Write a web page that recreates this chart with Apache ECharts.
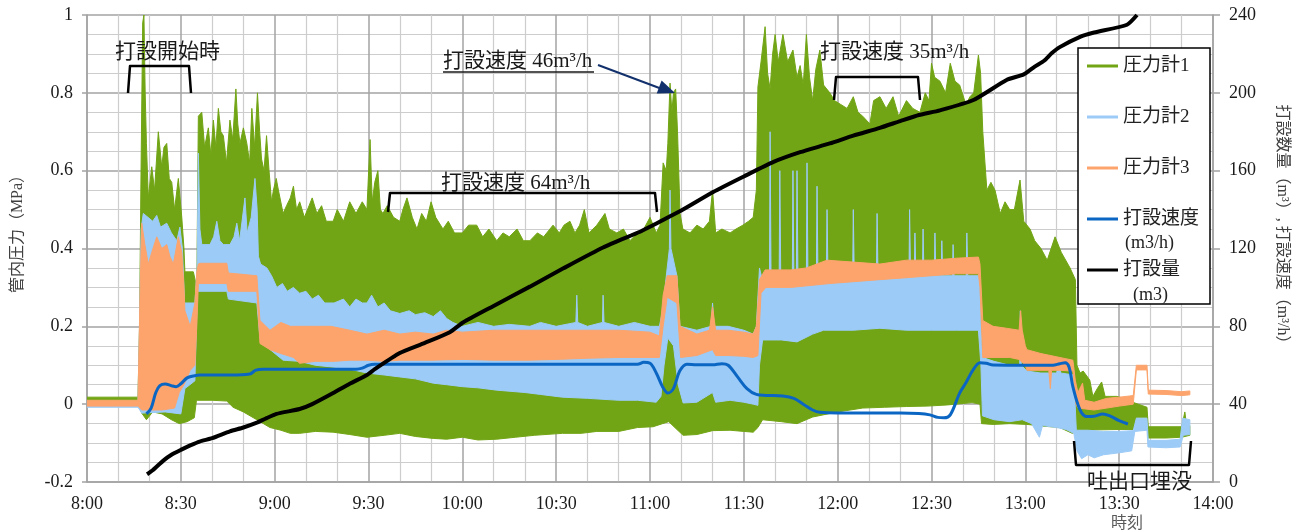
<!DOCTYPE html>
<html><head><meta charset="utf-8">
<script src="https://cdn.jsdelivr.net/npm/echarts/dist/echarts.min.js"></script>
<style>html,body{margin:0;padding:0;background:#fff}#c{width:1305px;height:532px}</style>
</head><body><div id="c"></div>
<script>
// ---- tick labels ----
const timeLabels = ['8:00','8:30','9:00','9:30','10:00','10:30','11:00','11:30','12:00','12:30','13:00','13:30','14:00'];
const pressureLabels = ['-0.2','0','0.2','0.4','0.6','0.8','1'];
const volumeLabels = ['0','40','80','120','160','200','240'];
const seriesNames = ['圧力計1','圧力計2','圧力計3','打設速度','打設量'];

// ---- 圧力計1 envelope: [minutes after 8:00, MPa] ----
const g1Hi = [[0,0.018],[16.3,0.018],[16.8,0.2],[17.3,0.62],[17.8,0.98],[18.2,1.0],[18.6,0.8],[19.0,0.67],[19.6,0.53],[20.7,0.61],[21.6,0.55],[22.8,0.70],[23.9,0.61],[24.6,0.66],[25.5,0.67],[26.3,0.58],[27.1,0.57],[28.0,0.50],[29.2,0.58],[30.3,0.48],[31.0,0.40],[31.3,0.34],[34.0,0.34],[35.1,0.30],[35.6,0.74],[36.7,0.75],[37.6,0.66],[38.8,0.71],[39.6,0.64],[40.4,0.73],[41.2,0.66],[42.0,0.76],[42.8,0.70],[43.6,0.69],[44.6,0.62],[45.7,0.73],[46.6,0.68],[47.6,0.81],[48.2,0.72],[48.9,0.67],[50.0,0.71],[51.1,0.67],[52.0,0.62],[52.7,0.76],[53.6,0.66],[54.5,0.80],[55.2,0.70],[55.8,0.63],[56.6,0.60],[57.4,0.69],[58.2,0.60],[59.0,0.52],[59.6,0.55],[60.5,0.58],[61.2,0.55],[62.7,0.49],[63.8,0.51],[65,0.53],[66,0.56],[67,0.50],[68,0.52],[69.5,0.48],[71,0.51],[72,0.53],[73.5,0.49],[75,0.51],[76.5,0.47],[78.7,0.47],[80,0.50],[82,0.47],[84,0.52],[86,0.49],[88,0.52],[89.5,0.50],[90.5,0.68],[91.2,0.52],[92,0.57],[93,0.60],[93.8,0.50],[94.6,0.49],[96,0.51],[98,0.48],[100,0.47],[101,0.50],[102.3,0.53],[104,0.48],[105.5,0.45],[107,0.49],[108.5,0.47],[110,0.52],[111.5,0.48],[113.8,0.45],[115.5,0.47],[117.5,0.44],[120,0.44],[122,0.46],[124.6,0.46],[126.5,0.43],[128.5,0.45],[131,0.42],[133,0.44],[135,0.43],[137.5,0.45],[139.5,0.42],[141.6,0.42],[144,0.44],[146,0.43],[149,0.46],[151,0.44],[152.5,0.46],[154.4,0.47],[156,0.44],[157.5,0.46],[159,0.50],[160.5,0.44],[163,0.46],[165.6,0.49],[167,0.45],[169.4,0.44],[171.5,0.45],[173.6,0.42],[176,0.44],[178,0.45],[180,0.48],[182,0.44],[183.2,0.46],[184.2,0.62],[185.2,0.60],[185.7,0.67],[186.4,0.825],[187.0,0.75],[187.5,0.80],[188.2,0.81],[188.8,0.70],[189.6,0.49],[190.5,0.45],[192.8,0.44],[195,0.46],[197,0.45],[199,0.47],[200,0.55],[201,0.44],[203,0.45],[205.6,0.44],[207.5,0.45],[209.7,0.46],[211.5,0.47],[213,0.48],[214,0.55],[214.5,0.815],[215.5,0.88],[216.8,0.97],[217.6,0.85],[218.4,0.81],[219.2,0.90],[220,0.95],[221,0.88],[222.5,0.95],[224,0.88],[225.7,0.91],[227,0.84],[228,0.87],[229,0.82],[230,0.95],[231,0.84],[232,0.78],[233,0.86],[234.3,0.91],[235.5,0.82],[237.5,0.80],[239,0.78],[241,0.77],[243,0.76],[245,0.79],[246.5,0.75],[248,0.74],[250.3,0.72],[251.5,0.78],[253.5,0.79],[255.5,0.76],[257.7,0.79],[259.5,0.74],[262,0.78],[264,0.76],[266.3,0.75],[268,0.80],[269.2,0.78],[270,0.876],[271,0.84],[272.7,0.83],[274.5,0.80],[276,0.876],[277.5,0.83],[279,0.82],[281,0.77],[282.3,0.79],[283.5,0.80],[285,0.897],[285.7,0.85],[286.4,0.70],[287.7,0.55],[289,0.57],[290.3,0.55],[292,0.49],[293.5,0.52],[295,0.50],[296.5,0.50],[298.3,0.576],[299.5,0.47],[301.5,0.45],[303,0.42],[305,0.40],[307,0.37],[309.5,0.43],[311.5,0.39],[314.3,0.35],[316,0.32],[316.5,0.10],[317.5,0.08],[318.5,0.085],[320.6,0.062],[321.6,0.02],[323,0.04],[324.4,0.057],[325.5,0.02],[329.3,0.02],[333.5,0.01],[335,0.003],[338.9,-0.008],[339.3,-0.058],[345,-0.058],[350,-0.058],[351,-0.02],[351.6,-0.058],[352.6,-0.055]];
const g1Lo = [[0,0.005],[16.3,0.005],[16.8,-0.01],[17.5,-0.023],[19,-0.04],[21,-0.02],[24,-0.025],[27,-0.04],[29.5,-0.05],[32,-0.045],[34.3,-0.035],[35,0.01],[40,0.01],[44.7,0.008],[46.7,-0.008],[50,-0.02],[54.3,-0.04],[58.5,-0.06],[62,-0.067],[65,-0.075],[68,-0.075],[73,-0.07],[78.7,-0.072],[84,-0.078],[89.5,-0.085],[95,-0.08],[100,-0.075],[105,-0.083],[110.7,-0.088],[115,-0.09],[120,-0.085],[125,-0.092],[131,-0.09],[137,-0.085],[143,-0.08],[152,-0.075],[158,-0.075],[163,-0.07],[170,-0.07],[176,-0.06],[181,-0.058],[184,-0.05],[186,-0.045],[188.6,-0.065],[190.6,-0.08],[195,-0.078],[200,-0.068],[205.6,-0.067],[210,-0.07],[213,-0.072],[214.5,-0.06],[216,-0.04],[222,-0.045],[227,-0.05],[232,-0.033],[240,-0.02],[248,-0.01],[255,-0.008],[262,-0.006],[268.6,-0.005],[275,-0.002],[283,0.004],[285.5,0.0],[286,-0.05],[289.7,-0.052],[295,-0.05],[300.5,-0.052],[305,-0.056],[311,-0.06],[315,-0.075],[316.5,-0.07],[317,-0.067],[330,-0.065],[334.5,-0.065],[335.5,-0.035],[338.9,-0.035],[339.3,-0.087],[345,-0.087],[350,-0.085],[352.6,-0.08]];

// ---- 圧力計2 envelope ----
const g2Hi = [[0,-0.002],[16.3,-0.002],[16.8,0.2],[17.3,0.45],[18,0.49],[19.5,0.48],[21,0.47],[22.3,0.485],[23.5,0.455],[25.5,0.465],[27,0.44],[28.7,0.42],[29.7,0.455],[30.5,0.40],[31.2,0.26],[34.5,0.26],[35.2,0.35],[35.6,0.645],[36.1,0.45],[36.7,0.41],[39.3,0.41],[40.5,0.43],[41.5,0.47],[42.5,0.42],[43.6,0.41],[45.7,0.41],[47,0.43],[47.9,0.465],[48.8,0.42],[50.5,0.53],[51.2,0.44],[52.5,0.48],[53.7,0.58],[54.4,0.50],[54.8,0.38],[55.5,0.36],[57.5,0.35],[59,0.33],[60.7,0.30],[62.5,0.31],[64,0.29],[66,0.30],[68,0.285],[70,0.29],[72,0.27],[74,0.28],[76,0.26],[79,0.26],[82,0.27],[84,0.25],[86,0.27],[88,0.26],[89.5,0.26],[91,0.28],[93,0.25],[95,0.26],[97,0.24],[100,0.233],[103,0.24],[105,0.23],[108,0.235],[110.7,0.225],[113,0.24],[115,0.22],[117,0.21],[120,0.20],[125,0.21],[130,0.20],[135,0.205],[141.6,0.20],[145,0.21],[150,0.20],[156.3,0.21],[156.6,0.28],[156.9,0.21],[160,0.20],[164.8,0.21],[165,0.28],[165.3,0.21],[170,0.20],[175,0.21],[180,0.20],[183,0.20],[184,0.24],[185.5,0.35],[186.2,0.40],[186.4,0.55],[186.7,0.40],[188.6,0.33],[189.6,0.2],[195,0.19],[199.5,0.2],[200,0.26],[200.5,0.2],[205,0.2],[210,0.19],[213,0.18],[214,0.2],[215,0.35],[216.5,0.30],[218.2,0.33],[218.4,0.70],[218.7,0.33],[221.3,0.33],[221.5,0.60],[221.8,0.33],[225.5,0.33],[225.7,0.60],[226.0,0.33],[226.8,0.33],[227.0,0.60],[227.3,0.33],[230.0,0.33],[230.2,0.62],[230.5,0.33],[233.2,0.33],[233.4,0.56],[233.7,0.33],[236.4,0.33],[236.6,0.50],[236.9,0.33],[244.8,0.33],[245,0.50],[245.3,0.33],[252.4,0.33],[252.6,0.49],[252.9,0.33],[262.8,0.33],[263,0.50],[263.3,0.33],[264.5,0.33],[264.7,0.44],[265,0.33],[267.1,0.33],[267.3,0.45],[267.6,0.33],[270.9,0.33],[271.1,0.44],[271.4,0.33],[273.1,0.33],[273.3,0.42],[273.6,0.33],[276.7,0.33],[276.9,0.41],[277.2,0.33],[281.1,0.33],[281.3,0.44],[281.6,0.33],[285.3,0.33],[285.8,0.2],[286.3,0.12],[290,0.11],[295,0.10],[298.2,0.10],[298.4,0.24],[298.7,0.10],[300.5,0.085],[305,0.08],[310,0.08],[311,0.12],[311.3,0.08],[315.5,0.075],[316.3,-0.067],[320,-0.067],[325,-0.07],[330,-0.07],[334.5,-0.068],[335.5,-0.036],[338.9,-0.036],[339.3,-0.093],[345,-0.093],[349.5,-0.09],[350.3,-0.036],[352.6,-0.04]];
const g2Lo = [[0,-0.008],[16.3,-0.008],[17.5,-0.023],[25,-0.02],[30,-0.025],[31.3,0.04],[34.5,0.06],[35.3,0.29],[44.7,0.29],[45.2,0.27],[54.3,0.26],[55.3,0.17],[57.5,0.147],[62.7,0.113],[68,0.11],[73,0.10],[79,0.095],[84,0.09],[89.5,0.08],[95,0.075],[100,0.07],[105,0.065],[110.7,0.054],[115,0.05],[120,0.045],[125,0.042],[131,0.036],[140,0.03],[145,0.025],[152,0.018],[160,0.015],[170,0.01],[176,0.01],[182,0.005],[183.5,0.02],[184.5,0.10],[185.7,0.17],[187.5,0.15],[189,0.05],[190.6,0.003],[195,0.005],[200,0.03],[201,0.005],[205.6,0.01],[210,0.005],[213,0.0],[214.5,-0.003],[215,0.10],[216,0.165],[222,0.165],[227,0.16],[232,0.18],[235.5,0.19],[245,0.19],[253.5,0.195],[262,0.19],[270,0.19],[278,0.19],[285,0.19],[285.8,0.10],[286.3,-0.03],[290,-0.04],[295,-0.045],[299,-0.04],[302,-0.05],[304.5,-0.085],[305.5,-0.055],[310,-0.06],[313,-0.065],[315.5,-0.075],[316.5,-0.12],[318,-0.14],[320,-0.13],[322,-0.138],[325,-0.13],[330,-0.125],[334,-0.12],[335,-0.07],[338.9,-0.067],[339.2,-0.11],[345,-0.112],[349.5,-0.11],[350.5,-0.08],[352.6,-0.078]];

// ---- 圧力計3 envelope ----
const g3Hi = [[0,0.01],[16.3,0.01],[17,0.3],[17.5,0.465],[18.5,0.41],[19.6,0.36],[20.7,0.39],[22.3,0.43],[23.9,0.40],[25.5,0.41],[26.5,0.38],[27.6,0.36],[29.2,0.43],[30.3,0.39],[31.0,0.30],[31.3,0.24],[33,0.2],[34.5,0.26],[35.1,0.34],[35.6,0.36],[36.1,0.362],[44.7,0.362],[45.2,0.337],[54.3,0.33],[55.3,0.215],[58.5,0.19],[62,0.21],[65,0.20],[68,0.2],[73,0.2],[78,0.2],[84,0.19],[89.5,0.18],[95,0.19],[100,0.18],[105,0.185],[110.7,0.18],[115,0.19],[120,0.185],[130,0.19],[140,0.19],[150,0.19],[160,0.19],[170,0.19],[180,0.185],[183,0.175],[184.2,0.28],[185.5,0.33],[188.6,0.33],[189.6,0.20],[195,0.18],[199,0.19],[200,0.25],[201,0.19],[205,0.19],[210,0.185],[213,0.18],[214,0.2],[215,0.32],[216.8,0.345],[225,0.345],[230,0.35],[236.6,0.37],[245,0.365],[253.5,0.36],[262,0.37],[270,0.37],[278,0.375],[285,0.378],[285.5,0.36],[286.4,0.215],[289.7,0.2],[294,0.195],[298,0.19],[298.5,0.24],[299,0.19],[300,0.15],[300.5,0.14],[305,0.13],[311,0.12],[315.2,0.113],[316,0.06],[316.8,0.03],[318.3,0.054],[319,0.01],[322,0.005],[326,0.015],[330,0.018],[334.5,0.022],[335.5,0.1],[338.9,0.1],[339.3,0.036],[345,0.035],[350,0.032],[352.6,0.034]];
const g3Lo = [[0,-0.005],[16.3,-0.005],[17.5,-0.015],[24,-0.015],[28,-0.01],[29.5,0.03],[31,0.05],[33,0.087],[34.5,0.1],[35.1,0.2],[35.6,0.31],[44.7,0.31],[45.2,0.29],[54.3,0.29],[55.3,0.156],[58.5,0.14],[62,0.13],[66,0.12],[68,0.105],[73,0.11],[79,0.11],[84,0.113],[89.5,0.113],[95,0.11],[100,0.113],[110,0.113],[120,0.115],[130,0.113],[141,0.113],[150,0.115],[160,0.118],[170,0.12],[180,0.12],[183,0.12],[184.2,0.2],[185.5,0.275],[188.6,0.26],[189.8,0.12],[195,0.125],[200,0.14],[201,0.125],[205,0.125],[210,0.123],[213,0.12],[214.5,0.125],[215.5,0.285],[217,0.30],[225,0.30],[237.5,0.31],[253.5,0.32],[262,0.325],[270,0.33],[278,0.335],[285,0.335],[285.5,0.3],[286.4,0.12],[290,0.12],[295,0.12],[298,0.115],[300,0.1],[300.5,0.087],[305,0.087],[307.5,0.087],[308,0.04],[308.4,0.087],[311,0.087],[315.2,0.085],[316.2,0.0],[316.8,-0.01],[322,-0.015],[330,-0.005],[334.5,0.0],[335.5,0.088],[338.9,0.088],[339.3,0.026],[345,0.025],[350,0.022],[352.6,0.024]];

// ---- 打設速度 (m3/h) and 打設量 (m3): [minutes, value] ----
const speed = [[19,35],[20.5,38],[22,46],[23.3,49.5],[25,50.4],[27,49.5],[28.5,49],[30,50.5],[32,53.5],[34,54.5],[36.1,55],[46,55],[52,55.5],[54,57.5],[56.3,58],[70,58],[86,58],[88,58.5],[90,60],[92,60.5],[110,60.5],[140,60.5],[170,60.5],[176,60.5],[178,61.5],[180,61],[182,56],[184,49],[185.7,45.7],[187.5,48],[189.5,57],[191.8,60.5],[195,60.2],[200,60.2],[203,60.8],[205,60],[208,54],[211,48],[214,45],[217,44.5],[222.5,44.2],[226,43],[229,40],[232,37],[234.3,35.8],[240,35.5],[250,35.5],[260,35.5],[266,35.2],[269.5,34.5],[272,33.2],[274,33],[276,34.5],[279,45.7],[281,51],[283.3,57.6],[285.5,61.3],[287.5,61],[289.7,60.1],[300,60],[308.8,60],[311,60.8],[312.7,61.3],[314,59],[315.2,49],[317.5,37],[319.7,33.6],[322,33.8],[324.8,35],[327,34],[330,31.5],[332.8,29.8]];
const volume = [[19.2,4],[21,6],[24.4,11],[27,14],[30,16.5],[33,18.8],[36,20.8],[40,22.5],[45.7,26],[50,28],[54.3,30.5],[57,32.5],[60.6,35],[68,37.5],[72,40],[78.7,45.7],[84,50.5],[89.5,55],[92,58],[100,66.3],[108,71.5],[116,77],[120.2,82],[130,90.5],[141.6,100.4],[152.3,109.8],[165,120.5],[176.8,128.6],[180,131.2],[190,139.5],[200.2,149],[210,157],[219.5,164.5],[228,169.5],[237.5,174],[245,178],[253.5,182],[260,185.5],[266,188.6],[272.7,191],[283.4,196.3],[294,206.6],[299.5,209.5],[303,213.5],[306,216.5],[308.4,220.3],[311,223.5],[317.5,228.8],[322,231],[332.5,235],[335.7,240]];

const SERIF = '"Liberation Serif","Noto Sans CJK JP",serif';
const CJK = '"Liberation Serif","Noto Sans CJK JP",sans-serif';
const C_G1 = '#72a515', C_G2 = '#9ccbf7', C_G3 = '#fca46c', C_SP = '#0b66c3', C_VOL = '#000000';

function band(name, color, hi, lo) {
  return {
    type: 'custom', name: name, coordinateSystem: 'cartesian2d', xAxisIndex: 0, yAxisIndex: 0,
    data: [hi[0]], clip: true, silent: true, z: 2,
    itemStyle: { color: color },
    renderItem: function (params, api) {
      const pts = hi.map(p => api.coord(p)).concat(lo.slice().reverse().map(p => api.coord(p)));
      return { type: 'polygon', shape: { points: pts }, style: { fill: color, stroke: color, lineWidth: 1 } };
    }
  };
}

const chart = echarts.init(document.getElementById('c'), null, { renderer: 'canvas' });
const gridMajor = '#a3a3a3', gridMinor = '#cdcdcd';
chart.setOption({
  animation: false,
  backgroundColor: '#fff',
  grid: { left: 87, right: 92, top: 15, bottom: 50, containLabel: false, outerBoundsMode: 'none' },
  xAxis: {
    type: 'value', min: 0, max: 360, interval: 30,
    axisLine: { show: true, onZero: false, lineStyle: { color: gridMajor, width: 1.5 } },
    axisTick: { show: false },
    minorTick: { show: false, splitNumber: 3 },
    splitLine: { show: true, lineStyle: { color: gridMajor, width: 1.5 } },
    minorSplitLine: { show: true, lineStyle: { color: gridMinor, width: 1.2 } },
    axisLabel: { margin: 13, fontFamily: SERIF, fontSize: 18, color: '#1a1a1a', showMinLabel: true, showMaxLabel: true,
      formatter: v => timeLabels[Math.round(v / 30)] }
  },
  yAxis: [{
    type: 'value', min: -0.2, max: 1, interval: 0.2, position: 'left',
    axisLine: { show: true, onZero: false, lineStyle: { color: gridMajor, width: 1.5 } },
    axisTick: { show: true, length: 5, lineStyle: { color: gridMajor, width: 1.5 } },
    minorTick: { show: false, splitNumber: 4 },
    splitLine: { show: true, lineStyle: { color: gridMajor, width: 1.5 } },
    minorSplitLine: { show: true, lineStyle: { color: gridMinor, width: 1.2 } },
    axisLabel: { margin: 14, fontFamily: SERIF, fontSize: 18, color: '#1a1a1a', showMinLabel: true, showMaxLabel: true,
      formatter: v => pressureLabels[Math.round((v + 0.2) / 0.2)] }
  }, {
    type: 'value', min: 0, max: 240, interval: 40, position: 'right',
    axisLine: { show: true, onZero: false, lineStyle: { color: gridMajor, width: 1.5 } },
    axisTick: { show: true, length: 7, lineStyle: { color: gridMajor, width: 1.5 } },
    splitLine: { show: false },
    axisLabel: { margin: 16, fontFamily: SERIF, fontSize: 18, color: '#1a1a1a', showMinLabel: true, showMaxLabel: true,
      formatter: v => volumeLabels[Math.round(v / 40)] }
  }],
  legend: {
    left: 1078, top: 48, orient: 'vertical', selectedMode: false,
    padding: [6, 11, 22, 9], itemGap: 27, itemWidth: 31, itemHeight: 3, icon: 'rect',
    backgroundColor: '#fff', borderColor: '#000', borderWidth: 1.5,
    textStyle: { fontFamily: CJK, fontSize: 19, color: '#222', lineHeight: 24 },
    data: seriesNames
  },
  series: [
    band(seriesNames[0], C_G1, g1Hi, g1Lo),
    band(seriesNames[1], C_G2, g2Hi, g2Lo),
    band(seriesNames[2], C_G3, g3Hi, g3Lo),
    { type: 'line', name: seriesNames[3], yAxisIndex: 1, data: speed, smooth: 0.35, symbol: 'none', z: 3,
      color: C_SP, lineStyle: { color: C_SP, width: 3 }, itemStyle: { color: C_SP } },
    { type: 'line', name: seriesNames[4], yAxisIndex: 1, data: volume, smooth: 0.2, symbol: 'none', z: 3,
      color: C_VOL, lineStyle: { color: C_VOL, width: 4 }, itemStyle: { color: C_VOL } }
  ],
  graphic: [
    { type: 'text', x: 18, y: 230, rotation: Math.PI / 2, z: 50,
      style: { text: '管内圧力（MPa）', font: '16px ' + CJK, fill: '#404040', align: 'center', verticalAlign: 'middle' } },
    { type: 'text', x: 1282, y: 228, rotation: -Math.PI / 2, z: 50,
      style: { text: '打設数量（m³）, 打設速度（m³/h）', font: '16px ' + CJK, fill: '#404040', align: 'center', verticalAlign: 'middle' } },
    { type: 'text', x: 1127, y: 524, z: 50,
      style: { text: '時刻', font: '16px ' + CJK, fill: '#595959', align: 'center', verticalAlign: 'middle' } },
    { type: 'text', x: 1125, y: 243, z: 50,
      style: { text: '(m3/h)', font: '18px ' + SERIF, fill: '#222', align: 'left', verticalAlign: 'middle' } },
    { type: 'text', x: 1133, y: 295, z: 50,
      style: { text: '(m3)', font: '18px ' + SERIF, fill: '#222', align: 'left', verticalAlign: 'middle' } },
    // annotations
    { type: 'text', x: 115, y: 52, z: 50,
      style: { text: '打設開始時', font: '21px ' + CJK, fill: '#1a1a1a', align: 'left', verticalAlign: 'middle' } },
    { type: 'polyline', z: 50, shape: { points: [[128, 93], [130, 66], [189, 66], [191, 93]] },
      style: { stroke: '#000', lineWidth: 2.5, fill: null, lineJoin: 'round' } },
    { type: 'text', x: 443, y: 61, z: 50,
      style: { text: '打設速度 46m³/h', font: '21px ' + CJK, fill: '#1a1a1a', align: 'left', verticalAlign: 'middle' } },
    { type: 'line', z: 50, shape: { x1: 443, y1: 72, x2: 594, y2: 72 }, style: { stroke: '#1a1a1a', lineWidth: 1.5 } },
    { type: 'line', z: 50, shape: { x1: 598, y1: 65, x2: 662, y2: 89 }, style: { stroke: '#12306b', lineWidth: 2 } },
    { type: 'polygon', z: 50, shape: { points: [[675, 93], [656.7, 93.6], [661.6, 80.5]] }, style: { fill: '#12306b' } },
    { type: 'text', x: 441, y: 183, z: 50,
      style: { text: '打設速度 64m³/h', font: '21px ' + CJK, fill: '#1a1a1a', align: 'left', verticalAlign: 'middle' } },
    { type: 'polyline', z: 50, shape: { points: [[388, 212], [390, 193], [655, 193], [657, 212]] },
      style: { stroke: '#000', lineWidth: 2.5, fill: null, lineJoin: 'round' } },
    { type: 'text', x: 820, y: 52, z: 50,
      style: { text: '打設速度 35m³/h', font: '21px ' + CJK, fill: '#1a1a1a', align: 'left', verticalAlign: 'middle' } },
    { type: 'polyline', z: 50, shape: { points: [[834, 100], [836, 77], [918, 77], [920, 100]] },
      style: { stroke: '#000', lineWidth: 2.5, fill: null, lineJoin: 'round' } },
    { type: 'text', x: 1087, y: 482, z: 50,
      style: { text: '吐出口埋没', font: '21px ' + CJK, fill: '#1a1a1a', align: 'left', verticalAlign: 'middle' } },
    { type: 'polyline', z: 50, shape: { points: [[1074, 441], [1076, 465], [1189, 465], [1191, 441]] },
      style: { stroke: '#000', lineWidth: 2.5, fill: null, lineJoin: 'round' } }
  ]
});
</script></body></html>
